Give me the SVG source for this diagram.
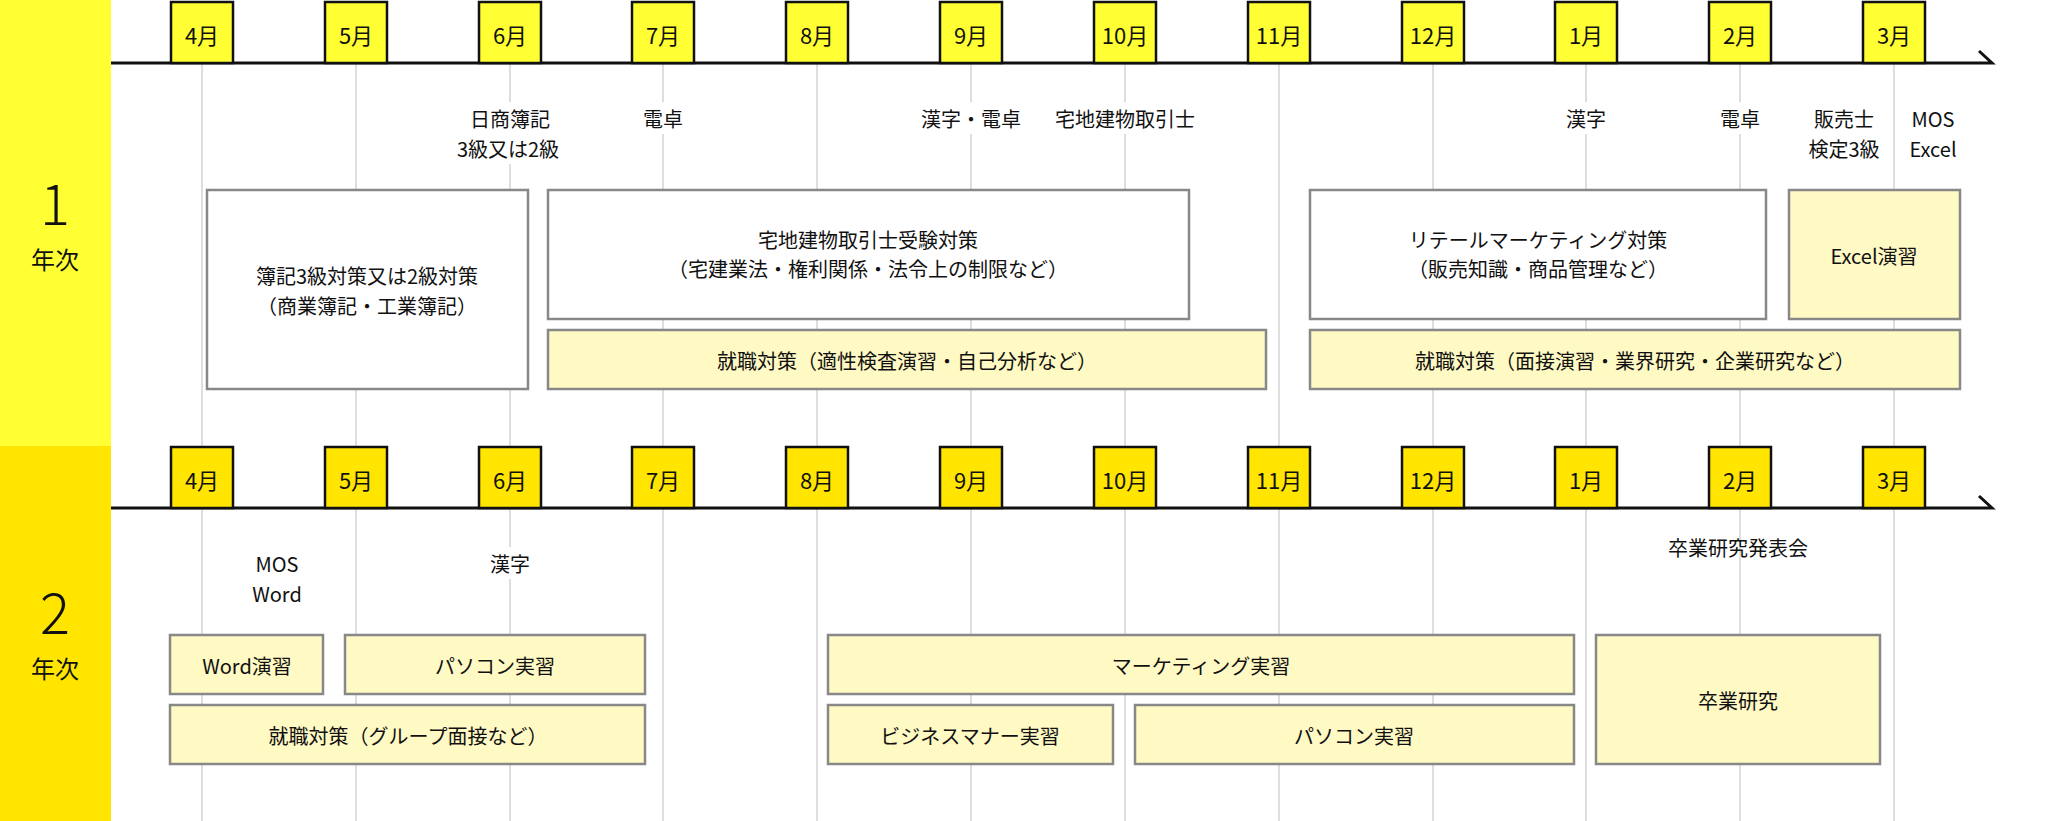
<svg xmlns="http://www.w3.org/2000/svg" width="2072" height="821" viewBox="0 0 2072 821">
<style>
text{font-family:"Noto Sans CJK JP","Noto Sans",sans-serif;fill:#111;text-anchor:middle;dominant-baseline:central}
.m{font-size:22px}
.l{font-size:20px}
.b{font-size:20px}
.w{fill:#fff;stroke:#888;stroke-width:2.5}
.y{fill:#FFF9C4;stroke:#888;stroke-width:2.5}
.g{stroke:#ccc;stroke-width:1.3}
.ax{stroke:#111;stroke-width:3;fill:none}
.mb1{fill:#FFFF33;stroke:#111;stroke-width:2.5}
.mb2{fill:#FFE500;stroke:#111;stroke-width:2.5}
.bg{fill:#fff}
.yr{font-size:56px;font-weight:300}
</style>
<rect width="2072" height="821" fill="#fff"/>
<rect x="0" y="0" width="111" height="446" fill="#FFFF33"/>
<rect x="0" y="446" width="111" height="375" fill="#FFE500"/>
<text class="yr" x="55" y="200">1</text>
<text x="55" y="258" style="font-size:24px">年次</text>
<text class="yr" x="55" y="609">2</text>
<text x="55" y="667" style="font-size:24px">年次</text>
<g id="connectors">
<g id="grid">
<line class="g" x1="202" y1="63" x2="202" y2="447"/><line class="g" x1="356" y1="63" x2="356" y2="447"/><line class="g" x1="510" y1="63" x2="510" y2="447"/><line class="g" x1="663" y1="63" x2="663" y2="447"/><line class="g" x1="817" y1="63" x2="817" y2="447"/><line class="g" x1="971" y1="63" x2="971" y2="447"/><line class="g" x1="1125" y1="63" x2="1125" y2="447"/><line class="g" x1="1279" y1="63" x2="1279" y2="447"/><line class="g" x1="1433" y1="63" x2="1433" y2="447"/><line class="g" x1="1586" y1="63" x2="1586" y2="447"/><line class="g" x1="1740" y1="63" x2="1740" y2="447"/><line class="g" x1="1894" y1="63" x2="1894" y2="447"/>
<line class="g" x1="202" y1="508" x2="202" y2="821"/><line class="g" x1="356" y1="508" x2="356" y2="821"/><line class="g" x1="510" y1="508" x2="510" y2="821"/><line class="g" x1="663" y1="508" x2="663" y2="821"/><line class="g" x1="817" y1="508" x2="817" y2="821"/><line class="g" x1="971" y1="508" x2="971" y2="821"/><line class="g" x1="1125" y1="508" x2="1125" y2="821"/><line class="g" x1="1279" y1="508" x2="1279" y2="821"/><line class="g" x1="1433" y1="508" x2="1433" y2="821"/><line class="g" x1="1586" y1="508" x2="1586" y2="821"/><line class="g" x1="1740" y1="508" x2="1740" y2="821"/><line class="g" x1="1894" y1="508" x2="1894" y2="821"/>
</g>
<path class="ax" d="M111 63H1992L1979 51"/>
<path class="ax" d="M111 508H1992L1979 496"/>
</g>
<g id="months1">
<rect class="mb1" x="171" y="2" width="62" height="61"/><text class="m" x="202" y="34">4月</text>
<rect class="mb1" x="325" y="2" width="62" height="61"/><text class="m" x="356" y="34">5月</text>
<rect class="mb1" x="479" y="2" width="62" height="61"/><text class="m" x="510" y="34">6月</text>
<rect class="mb1" x="632" y="2" width="62" height="61"/><text class="m" x="663" y="34">7月</text>
<rect class="mb1" x="786" y="2" width="62" height="61"/><text class="m" x="817" y="34">8月</text>
<rect class="mb1" x="940" y="2" width="62" height="61"/><text class="m" x="971" y="34">9月</text>
<rect class="mb1" x="1094" y="2" width="62" height="61"/><text class="m" x="1125" y="34">10月</text>
<rect class="mb1" x="1248" y="2" width="62" height="61"/><text class="m" x="1279" y="34">11月</text>
<rect class="mb1" x="1402" y="2" width="62" height="61"/><text class="m" x="1433" y="34">12月</text>
<rect class="mb1" x="1555" y="2" width="62" height="61"/><text class="m" x="1586" y="34">1月</text>
<rect class="mb1" x="1709" y="2" width="62" height="61"/><text class="m" x="1740" y="34">2月</text>
<rect class="mb1" x="1863" y="2" width="62" height="61"/><text class="m" x="1894" y="34">3月</text>
</g>
<g id="months2">
<rect class="mb2" x="171" y="447" width="62" height="61"/><text class="m" x="202" y="479">4月</text>
<rect class="mb2" x="325" y="447" width="62" height="61"/><text class="m" x="356" y="479">5月</text>
<rect class="mb2" x="479" y="447" width="62" height="61"/><text class="m" x="510" y="479">6月</text>
<rect class="mb2" x="632" y="447" width="62" height="61"/><text class="m" x="663" y="479">7月</text>
<rect class="mb2" x="786" y="447" width="62" height="61"/><text class="m" x="817" y="479">8月</text>
<rect class="mb2" x="940" y="447" width="62" height="61"/><text class="m" x="971" y="479">9月</text>
<rect class="mb2" x="1094" y="447" width="62" height="61"/><text class="m" x="1125" y="479">10月</text>
<rect class="mb2" x="1248" y="447" width="62" height="61"/><text class="m" x="1279" y="479">11月</text>
<rect class="mb2" x="1402" y="447" width="62" height="61"/><text class="m" x="1433" y="479">12月</text>
<rect class="mb2" x="1555" y="447" width="62" height="61"/><text class="m" x="1586" y="479">1月</text>
<rect class="mb2" x="1709" y="447" width="62" height="61"/><text class="m" x="1740" y="479">2月</text>
<rect class="mb2" x="1863" y="447" width="62" height="61"/><text class="m" x="1894" y="479">3月</text>
</g>
<g id="labels1">
<rect class="bg" x="450" y="102" width="120" height="62"/><text class="l" x="510" y="118">日商簿記</text><text class="l" x="508" y="148">3級又は2級</text>
<rect class="bg" x="640" y="102" width="46" height="32"/><text class="l" x="663" y="118">電卓</text>
<rect class="bg" x="915" y="102" width="112" height="32"/><text class="l" x="971" y="118">漢字・電卓</text>
<rect class="bg" x="1052" y="102" width="146" height="32"/><text class="l" x="1125" y="118">宅地建物取引士</text>
<rect class="bg" x="1563" y="102" width="46" height="32"/><text class="l" x="1586" y="118">漢字</text>
<rect class="bg" x="1717" y="102" width="46" height="32"/><text class="l" x="1740" y="118">電卓</text>
<text class="l" x="1844" y="118">販売士</text><text class="l" x="1844" y="148">検定3級</text>
<text class="l" x="1933" y="118">MOS</text><text class="l" x="1933" y="148">Excel</text>
</g>
<g id="boki"><rect class="w" x="207" y="190" width="321" height="199"/><text class="b" x="367" y="275">簿記3級対策又は2級対策</text><text class="b" x="367" y="305">（商業簿記・工業簿記）</text></g>
<g id="takken"><rect class="w" x="548" y="190" width="641" height="129"/><text class="b" x="868" y="239">宅地建物取引士受験対策</text><text class="b" x="868" y="268">（宅建業法・権利関係・法令上の制限など）</text></g>
<g id="shushoku1"><rect class="y" x="548" y="330" width="718" height="59"/><text class="b" x="907" y="360">就職対策（適性検査演習・自己分析など）</text></g>
<g id="retail"><rect class="w" x="1310" y="190" width="456" height="129"/><text class="b" x="1538" y="239">リテールマーケティング対策</text><text class="b" x="1538" y="268">（販売知識・商品管理など）</text></g>
<g id="excel"><rect class="y" x="1789" y="190" width="171" height="129"/><text class="b" x="1874" y="255">Excel演習</text></g>
<g id="shushoku2"><rect class="y" x="1310" y="330" width="650" height="59"/><text class="b" x="1635" y="360">就職対策（面接演習・業界研究・企業研究など）</text></g>
<g id="labels2">
<text class="l" x="277" y="563">MOS</text><text class="l" x="277" y="593">Word</text>
<rect class="bg" x="487" y="547" width="46" height="32"/><text class="l" x="510" y="563">漢字</text>
<text class="l" x="1738" y="547">卒業研究発表会</text>
</g>
<g id="word"><rect class="y" x="170" y="635" width="153" height="59"/><text class="b" x="247" y="665">Word演習</text></g>
<g id="pc1"><rect class="y" x="345" y="635" width="300" height="59"/><text class="b" x="495" y="665">パソコン実習</text></g>
<g id="shushoku3"><rect class="y" x="170" y="705" width="475" height="59"/><text class="b" x="408" y="735">就職対策（グループ面接など）</text></g>
<g id="marketing"><rect class="y" x="828" y="635" width="746" height="59"/><text class="b" x="1201" y="665">マーケティング実習</text></g>
<g id="manner"><rect class="y" x="828" y="705" width="285" height="59"/><text class="b" x="970" y="735">ビジネスマナー実習</text></g>
<g id="pc2"><rect class="y" x="1135" y="705" width="439" height="59"/><text class="b" x="1354" y="735">パソコン実習</text></g>
<g id="sotsugyo"><rect class="y" x="1596" y="635" width="284" height="129"/><text class="b" x="1738" y="700">卒業研究</text></g>
</svg>
